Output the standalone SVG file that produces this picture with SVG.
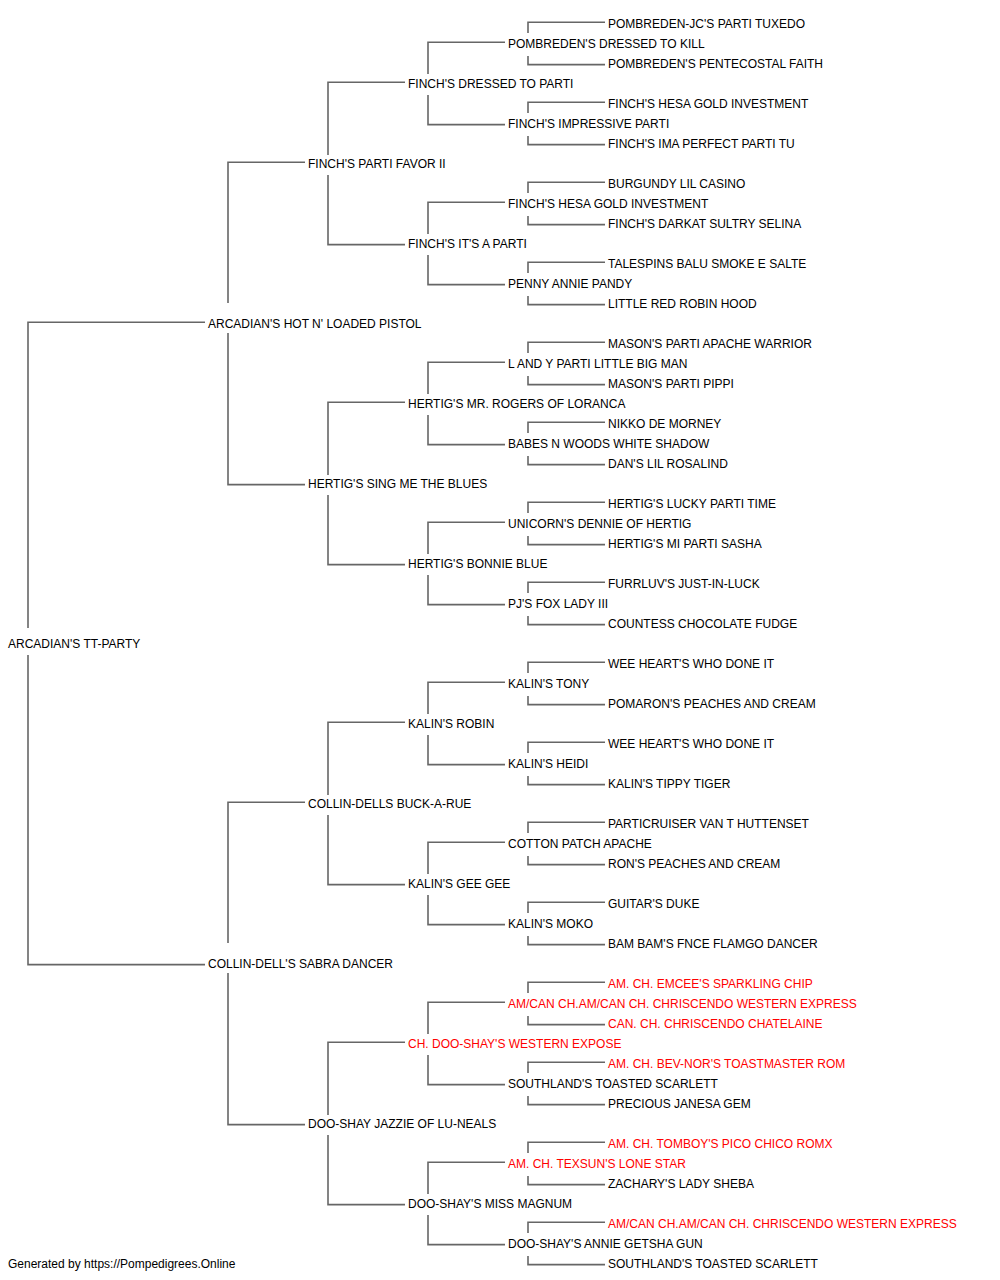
<svg xmlns="http://www.w3.org/2000/svg" width="1000" height="1280" viewBox="0 0 1000 1280">
<style>
text{font-family:"Liberation Sans",Arial,sans-serif;font-size:12px;fill:#000}
text.r{fill:#ff0000}
.c path{fill:none;stroke:#666;stroke-width:1.6}
</style>
<rect width="1000" height="1280" fill="#fff"/>
<g class="c" id="connectors">
<path d="M528,33V22.3H605M528,56V64.6H605"/>
<path d="M528,113V102.3H605M528,136V144.6H605"/>
<path d="M528,193V182.3H605M528,216V224.6H605"/>
<path d="M528,273V262.3H605M528,296V304.6H605"/>
<path d="M528,353V342.3H605M528,376V384.6H605"/>
<path d="M528,433V422.3H605M528,456V464.6H605"/>
<path d="M528,513V502.3H605M528,536V544.6H605"/>
<path d="M528,593V582.3H605M528,616V624.6H605"/>
<path d="M528,673V662.3H605M528,696V704.6H605"/>
<path d="M528,753V742.3H605M528,776V784.6H605"/>
<path d="M528,833V822.3H605M528,856V864.6H605"/>
<path d="M528,913V902.3H605M528,936V944.6H605"/>
<path d="M528,993V982.3H605M528,1016V1024.6H605"/>
<path d="M528,1073V1062.3H605M528,1096V1104.6H605"/>
<path d="M528,1153V1142.3H605M528,1176V1184.6H605"/>
<path d="M528,1233V1222.3H605M528,1256V1264.6H605"/>
<path d="M428,74V42.3H505M428,95V124.6H505"/>
<path d="M428,234V202.3H505M428,255V284.6H505"/>
<path d="M428,394V362.3H505M428,415V444.6H505"/>
<path d="M428,554V522.3H505M428,575V604.6H505"/>
<path d="M428,714V682.3H505M428,735V764.6H505"/>
<path d="M428,874V842.3H505M428,895V924.6H505"/>
<path d="M428,1034V1002.3H505M428,1055V1084.6H505"/>
<path d="M428,1194V1162.3H505M428,1215V1244.6H505"/>
<path d="M328,155V82.3H405M328,175V244.6H405"/>
<path d="M328,475V402.3H405M328,495V564.6H405"/>
<path d="M328,795V722.3H405M328,815V884.6H405"/>
<path d="M328,1115V1042.3H405M328,1135V1204.6H405"/>
<path d="M228,303V162.3H305M228,333V484.6H305"/>
<path d="M228,943V802.3H305M228,973V1124.6H305"/>
<path d="M28,628V322.3H205M28,655V964.6H205"/>
</g>
<g id="n0"><text x="608" y="28">POMBREDEN-JC'S PARTI TUXEDO</text></g>
<g id="n1"><text x="508" y="48">POMBREDEN'S DRESSED TO KILL</text></g>
<g id="n2"><text x="608" y="68">POMBREDEN'S PENTECOSTAL FAITH</text></g>
<g id="n3"><text x="408" y="88">FINCH'S DRESSED TO PARTI</text></g>
<g id="n4"><text x="608" y="108">FINCH'S HESA GOLD INVESTMENT</text></g>
<g id="n5"><text x="508" y="128">FINCH'S IMPRESSIVE PARTI</text></g>
<g id="n6"><text x="608" y="148">FINCH'S IMA PERFECT PARTI TU</text></g>
<g id="n7"><text x="308" y="168">FINCH'S PARTI FAVOR II</text></g>
<g id="n8"><text x="608" y="188">BURGUNDY LIL CASINO</text></g>
<g id="n9"><text x="508" y="208">FINCH'S HESA GOLD INVESTMENT</text></g>
<g id="n10"><text x="608" y="228">FINCH'S DARKAT SULTRY SELINA</text></g>
<g id="n11"><text x="408" y="248">FINCH'S IT'S A PARTI</text></g>
<g id="n12"><text x="608" y="268">TALESPINS BALU SMOKE E SALTE</text></g>
<g id="n13"><text x="508" y="288">PENNY ANNIE PANDY</text></g>
<g id="n14"><text x="608" y="308">LITTLE RED ROBIN HOOD</text></g>
<g id="n15"><text x="208" y="328">ARCADIAN'S HOT N' LOADED PISTOL</text></g>
<g id="n16"><text x="608" y="348">MASON'S PARTI APACHE WARRIOR</text></g>
<g id="n17"><text x="508" y="368">L AND Y PARTI LITTLE BIG MAN</text></g>
<g id="n18"><text x="608" y="388">MASON'S PARTI PIPPI</text></g>
<g id="n19"><text x="408" y="408">HERTIG'S MR. ROGERS OF LORANCA</text></g>
<g id="n20"><text x="608" y="428">NIKKO DE MORNEY</text></g>
<g id="n21"><text x="508" y="448">BABES N WOODS WHITE SHADOW</text></g>
<g id="n22"><text x="608" y="468">DAN'S LIL ROSALIND</text></g>
<g id="n23"><text x="308" y="488">HERTIG'S SING ME THE BLUES</text></g>
<g id="n24"><text x="608" y="508">HERTIG'S LUCKY PARTI TIME</text></g>
<g id="n25"><text x="508" y="528">UNICORN'S DENNIE OF HERTIG</text></g>
<g id="n26"><text x="608" y="548">HERTIG'S MI PARTI SASHA</text></g>
<g id="n27"><text x="408" y="568">HERTIG'S BONNIE BLUE</text></g>
<g id="n28"><text x="608" y="588">FURRLUV'S JUST-IN-LUCK</text></g>
<g id="n29"><text x="508" y="608">PJ'S FOX LADY III</text></g>
<g id="n30"><text x="608" y="628">COUNTESS CHOCOLATE FUDGE</text></g>
<g id="n31"><text x="8" y="648">ARCADIAN'S TT-PARTY</text></g>
<g id="n32"><text x="608" y="668">WEE HEART'S WHO DONE IT</text></g>
<g id="n33"><text x="508" y="688">KALIN'S TONY</text></g>
<g id="n34"><text x="608" y="708">POMARON'S PEACHES AND CREAM</text></g>
<g id="n35"><text x="408" y="728">KALIN'S ROBIN</text></g>
<g id="n36"><text x="608" y="748">WEE HEART'S WHO DONE IT</text></g>
<g id="n37"><text x="508" y="768">KALIN'S HEIDI</text></g>
<g id="n38"><text x="608" y="788">KALIN'S TIPPY TIGER</text></g>
<g id="n39"><text x="308" y="808">COLLIN-DELLS BUCK-A-RUE</text></g>
<g id="n40"><text x="608" y="828">PARTICRUISER VAN T HUTTENSET</text></g>
<g id="n41"><text x="508" y="848">COTTON PATCH APACHE</text></g>
<g id="n42"><text x="608" y="868">RON'S PEACHES AND CREAM</text></g>
<g id="n43"><text x="408" y="888">KALIN'S GEE GEE</text></g>
<g id="n44"><text x="608" y="908">GUITAR'S DUKE</text></g>
<g id="n45"><text x="508" y="928">KALIN'S MOKO</text></g>
<g id="n46"><text x="608" y="948">BAM BAM'S FNCE FLAMGO DANCER</text></g>
<g id="n47"><text x="208" y="968">COLLIN-DELL'S SABRA DANCER</text></g>
<g id="n48"><text class="r" x="608" y="988">AM. CH. EMCEE'S SPARKLING CHIP</text></g>
<g id="n49"><text class="r" x="508" y="1008">AM/CAN CH.AM/CAN CH. CHRISCENDO WESTERN EXPRESS</text></g>
<g id="n50"><text class="r" x="608" y="1028">CAN. CH. CHRISCENDO CHATELAINE</text></g>
<g id="n51"><text class="r" x="408" y="1048">CH. DOO-SHAY'S WESTERN EXPOSE</text></g>
<g id="n52"><text class="r" x="608" y="1068">AM. CH. BEV-NOR'S TOASTMASTER ROM</text></g>
<g id="n53"><text x="508" y="1088">SOUTHLAND'S TOASTED SCARLETT</text></g>
<g id="n54"><text x="608" y="1108">PRECIOUS JANESA GEM</text></g>
<g id="n55"><text x="308" y="1128">DOO-SHAY JAZZIE OF LU-NEALS</text></g>
<g id="n56"><text class="r" x="608" y="1148">AM. CH. TOMBOY'S PICO CHICO ROMX</text></g>
<g id="n57"><text class="r" x="508" y="1168">AM. CH. TEXSUN'S LONE STAR</text></g>
<g id="n58"><text x="608" y="1188">ZACHARY'S LADY SHEBA</text></g>
<g id="n59"><text x="408" y="1208">DOO-SHAY'S MISS MAGNUM</text></g>
<g id="n60"><text class="r" x="608" y="1228">AM/CAN CH.AM/CAN CH. CHRISCENDO WESTERN EXPRESS</text></g>
<g id="n61"><text x="508" y="1248">DOO-SHAY'S ANNIE GETSHA GUN</text></g>
<g id="n62"><text x="608" y="1268">SOUTHLAND'S TOASTED SCARLETT</text></g>
<g id="footer"><text x="8" y="1268">Generated by https://Pompedigrees.Online</text></g>
</svg>
